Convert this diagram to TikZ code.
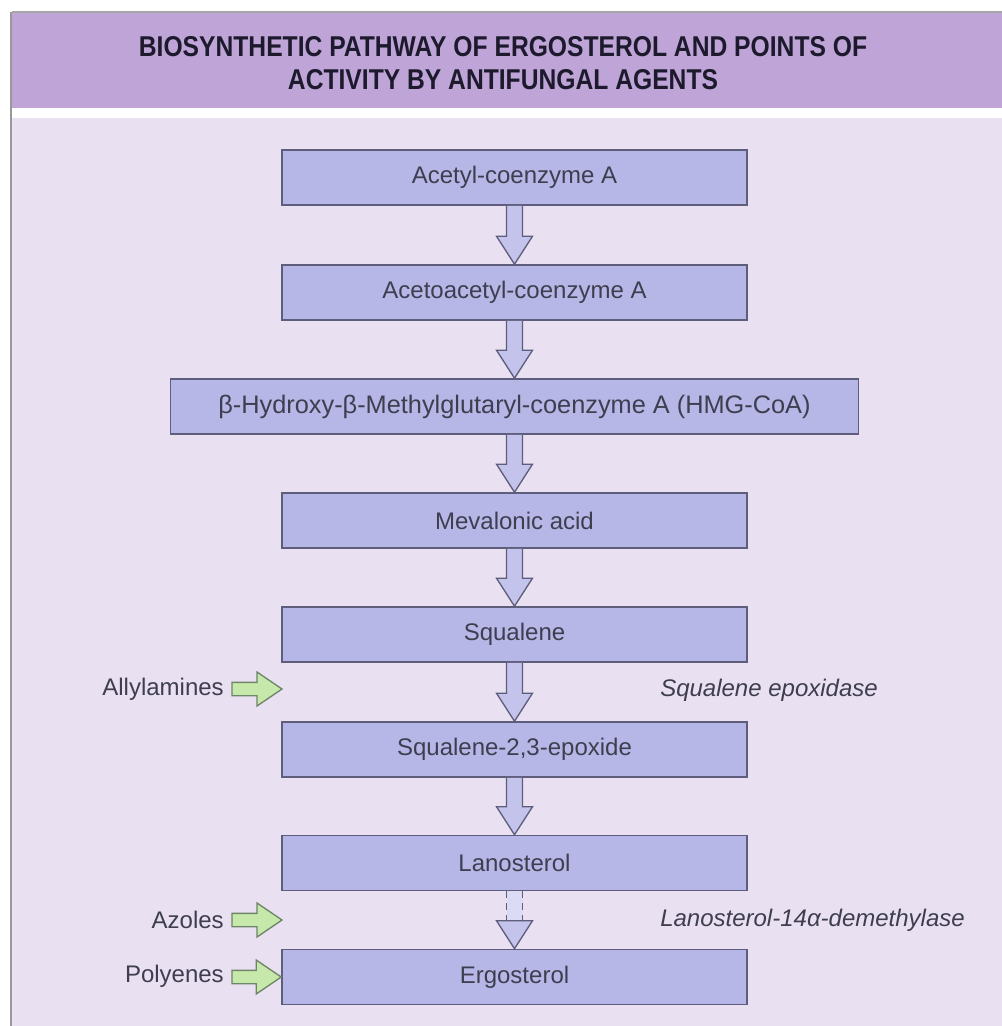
\documentclass[tikz,border=0pt]{standalone}
\usepackage{fontspec}
\setmainfont{Liberation Sans}
\newfontfamily\titlefont{Liberation Sans}[FakeStretch=0.86]
\usetikzlibrary{calc}
\definecolor{hdr}{HTML}{BFA4D8}
\definecolor{bgc}{HTML}{E9E0F1}
\definecolor{boxfill}{HTML}{B6B7E6}
\definecolor{boxline}{HTML}{5E5E7C}
\definecolor{arrfill}{HTML}{C3C3EC}
\definecolor{grfill}{HTML}{C6E8AA}
\definecolor{grline}{HTML}{6E8568}
\definecolor{txt}{HTML}{3E3E50}
\definecolor{ttl}{HTML}{1C1A2C}
\tikzset{
  stepbox/.style={draw=boxline, fill=boxfill, line width=1.2pt, minimum width=348.75pt,
    minimum height=41.25pt, inner sep=0pt, font=\fontsize{18}{20}\selectfont, text=txt},
  blockarr/.style={draw=boxline, fill=arrfill, line width=1pt, line join=miter},
  greenarr/.style={draw=grline, fill=grfill, line width=1pt, line join=miter},
  agent/.style={anchor=east, inner sep=0pt, font=\fontsize{18}{20}\selectfont, text=txt},
  enzyme/.style={anchor=west, inner sep=0pt, font=\fontsize{18}{20}\selectfont\itshape, text=txt}
}
\newcommand\flowarrow[2]{%
  \path let \p1=(#1.south), \p2=(#2.north) in
    [blockarr] (\x1-6pt,\y1) -- (\x1-6pt,\y2+21pt) -- (\x1-13.5pt,\y2+21pt) -- (\x2,\y2)
    -- (\x1+13.5pt,\y2+21pt) -- (\x1+6pt,\y2+21pt) -- (\x1+6pt,\y1);}
\newcommand\dashflowarrow[2]{%
  \path let \p1=(#1.south), \p2=(#2.north) in
    [fill=arrfill!60] (\x1-6pt,\y1) rectangle (\x1+6pt,\y2+21pt);
  \path let \p1=(#1.south), \p2=(#2.north) in
    [draw=boxline, line width=1pt, dash pattern=on 5pt off 4pt]
    (\x1-6pt,\y1) -- (\x1-6pt,\y2+21pt) (\x1+6pt,\y1) -- (\x1+6pt,\y2+21pt);
  \path let \p1=(#1.south), \p2=(#2.north) in
    [blockarr] (\x1-13.5pt,\y2+21pt) -- (\x2,\y2) -- (\x1+13.5pt,\y2+21pt) -- cycle;}
\newcommand\agentarrow[2]{%
  \path let \p1=(#1.east), \p2=(#2) in
    [greenarr] (\x1+6pt,\y2-5pt) -- (\x2-18.75pt,\y2-5pt) -- (\x2-18.75pt,\y2-12.75pt)
    -- (\x2,\y2) -- (\x2-18.75pt,\y2+12.75pt) -- (\x2-18.75pt,\y2+5pt) -- (\x1+6pt,\y2+5pt) -- cycle;}
\begin{document}
\begin{tikzpicture}[x=0.75pt,y=-0.75pt]
\useasboundingbox (0,0) rectangle (1002,1026);
\fill[white] (0,0) rectangle (1002,1026);
\fill[hdr] (12,12) rectangle (1002,108);
\draw[gray!70, line width=0.8pt] (12,12) -- (1002,12);
\fill[bgc] (12,118) rectangle (1002,1026);
\draw[gray!80, line width=1.4pt] (11,12) -- (11,1026);

\node[align=center, text=ttl, font=\titlefont\bfseries\fontsize{21.5}{24.75}\selectfont] (title) at (503,63)
  {BIOSYNTHETIC PATHWAY OF ERGOSTEROL AND POINTS OF\\ACTIVITY BY ANTIFUNGAL AGENTS};

\node[stepbox] (s1) at (514.5,177.5) {Acetyl-coenzyme A};
\node[stepbox] (s2) at (514.5,292.5) {Acetoacetyl-coenzyme A};
\node[stepbox, minimum width=516pt, font=\fontsize{19}{21}\selectfont] (s3) at (514.5,406.5) {β-Hydroxy-β-Methylglutaryl-coenzyme A (HMG-CoA)};
\node[stepbox] (s4) at (514.5,520.5) {Mevalonic acid};
\node[stepbox] (s5) at (514.5,634.5) {Squalene};
\node[stepbox] (s6) at (514.5,749.5) {Squalene-2,3-epoxide};
\node[stepbox] (s7) at (514.5,863) {Lanosterol};
\node[stepbox] (s8) at (514.5,977) {Ergosterol};

\flowarrow{s1}{s2}
\flowarrow{s2}{s3}
\flowarrow{s3}{s4}
\flowarrow{s4}{s5}
\flowarrow{s5}{s6}
\flowarrow{s6}{s7}
\dashflowarrow{s7}{s8}

\node[agent] (allyl) at (224,689) {Allylamines};
\node[agent] (azol) at (224,920) {Azoles};
\node[agent] (poly) at (224,976) {Polyenes};
\coordinate (allylTip) at (282,689);
\coordinate (azolTip) at (282,920);
\agentarrow{allyl}{allylTip}
\agentarrow{azol}{azolTip}
\agentarrow{poly}{s8.west}

\node[enzyme] (e1) at (660,690) {Squalene epoxidase};
\node[enzyme] (e2) at (660,920) {Lanosterol-14α-demethylase};
\end{tikzpicture}
\end{document}
